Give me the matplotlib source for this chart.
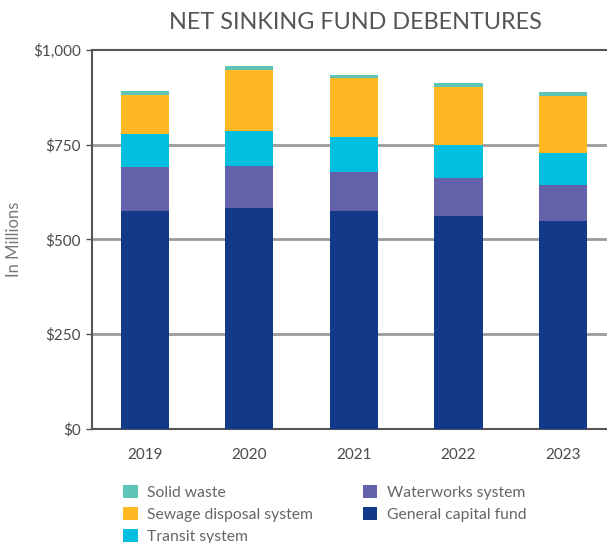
import matplotlib
matplotlib.use("Agg")
import matplotlib.pyplot as plt
from matplotlib.patches import Patch
import numpy as np

years = ["2019", "2020", "2021", "2022", "2023"]
general_capital = [574, 584, 574, 561, 550]
waterworks = [116, 111, 105, 102, 95]
transit = [89, 92, 92, 87, 84]
sewage = [103, 160, 155, 153, 150]
solid_waste = [10, 11, 8, 10, 10]

series = [
    ("General capital fund", general_capital, "#123A88"),
    ("Waterworks system", waterworks, "#6461AB"),
    ("Transit system", transit, "#02BFDF"),
    ("Sewage disposal system", sewage, "#FDB824"),
    ("Solid waste", solid_waste, "#5EC4B6"),
]
tick_values = [0, 250, 500, 750, 1000]
tick_labels = ["$0", "$250", "$500", "$750", "$1,000"]

plt.rcParams["font.family"] = ["Lato", "DejaVu Sans"]
text_color = "#4a4a4a"

fig = plt.figure(figsize=(6.07, 5.43), dpi=100)
ax = fig.add_axes([0.152, 0.21, 0.848, 0.698])

x = np.arange(len(years))
bottom = np.zeros(len(years))
for name, vals, color in series:
    ax.bar(x, vals, width=0.46, bottom=bottom, color=color, zorder=3, label=name)
    bottom += np.array(vals)

ax.set_xlim(-0.5, 4.42)
ax.set_ylim(0, 1000)
ax.set_yticks(tick_values)
ax.set_yticklabels(tick_labels)
ax.set_xticks(x)
ax.set_xticklabels(years)

for v in tick_values[1:-1]:
    ax.axhline(v, color="#9a9a9a", lw=2, zorder=1)

ax.spines["right"].set_visible(False)
for side in ["left", "bottom", "top"]:
    ax.spines[side].set_color("#555555")
    ax.spines[side].set_linewidth(1.5)

ax.tick_params(axis="y", length=4, width=1, color="#555555", labelsize=11,
               labelcolor=text_color, pad=4)
ax.tick_params(axis="x", length=0, labelsize=11, labelcolor=text_color, pad=14)

ax.set_ylabel("In Millions", fontsize=12, color="#777777", labelpad=8)
fig.text(0.585, 0.958, "NET SINKING FUND DEBENTURES", ha="center", va="center",
         fontsize=16.8, color="#555555")

order = [4, 3, 2, 1, 0]
handles = [Patch(facecolor=series[i][2], label=series[i][0]) for i in order]
fig.legend(handles=handles, loc="upper left", bbox_to_anchor=(0.193, 0.118),
           ncol=2, frameon=False, fontsize=11.3, labelcolor="#666666",
           handlelength=0.9, handleheight=0.9, handletextpad=0.6,
           columnspacing=3.2, labelspacing=0.45, borderaxespad=0)

fig.savefig("out.png", dpi=100)
